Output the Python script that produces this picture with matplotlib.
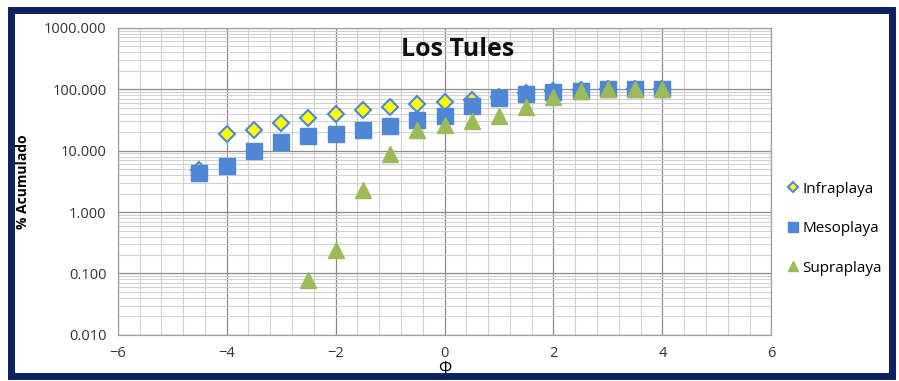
import matplotlib
matplotlib.use("Agg")
import matplotlib.pyplot as plt
from matplotlib.patches import Rectangle
from matplotlib.ticker import FuncFormatter, LogLocator, MultipleLocator

plt.rcParams["font.family"] = ["Open Sans", "DejaVu Sans"]

phi = [-4.5, -4.0, -3.5, -3.0, -2.5, -2.0, -1.5, -1.0, -0.5, 0.0,
       0.5, 1.0, 1.5, 2.0, 2.5, 3.0, 3.5, 4.0]
infraplaya = [4.8, 19, 22, 28, 34, 40, 46, 52, 58, 63,
              67, 76, 88, 94, 98, 100, 100, 100]
mesoplaya = [4.3, 5.7, 10, 13.6, 17.5, 19, 22, 25.5, 31, 37,
             54, 72, 84, 90, 95, 100, 100, 100]
supra_phi = [-2.5, -2.0, -1.5, -1.0, -0.5, 0.0, 0.5, 1.0, 1.5, 2.0, 2.5, 3.0, 3.5, 4.0]
supraplaya = [0.079, 0.24, 2.3, 8.9, 22, 26.5, 30, 37, 52, 75, 92, 100, 100, 100]

fig = plt.figure(figsize=(8.99, 3.81), dpi=100)
ax = fig.add_axes([0.131, 0.121, 0.727, 0.806])

ax.set_yscale("log")
ax.set_xlim(-6, 6)
ax.set_ylim(0.01, 1000)
ax.xaxis.set_major_locator(MultipleLocator(2))
ax.xaxis.set_minor_locator(MultipleLocator(0.4))
ax.yaxis.set_major_locator(LogLocator(base=10, numticks=10))
ax.yaxis.set_minor_locator(LogLocator(base=10, subs=range(2, 10), numticks=20))
ax.yaxis.set_major_formatter(FuncFormatter(lambda v, _: f"{v:.3f}"))
ax.yaxis.set_minor_formatter(FuncFormatter(lambda v, _: ""))

ax.grid(which="major", color="#8c8c8c", linewidth=0.9)
ax.grid(which="minor", color="#d0d0d0", linewidth=0.8)
ax.set_axisbelow(True)
ax.tick_params(which="both", length=0, labelsize=10.5, colors="#333333", pad=8)
for s in ax.spines.values():
    s.set_color("#a0a0a0")
    s.set_linewidth(0.9)

# Excel draws series in order: Infraplaya, Mesoplaya, Supraplaya on top
ax.plot(phi, infraplaya, linestyle="none", marker="D", markersize=8,
        markerfacecolor="#ffff00", markeredgecolor="#4f86d6", markeredgewidth=1.5,
        label="Infraplaya", zorder=2)
ax.plot(phi, mesoplaya, linestyle="none", marker="s", markersize=11,
        color="#4f86d6", label="Mesoplaya", zorder=3)
ax.plot(supra_phi, supraplaya, linestyle="none", marker="^", markersize=12,
        color="#9bbb59", label="Supraplaya", zorder=4)

ax.set_ylabel("% Acumulado", fontsize=10, fontweight="bold", labelpad=10)
ax.set_xlabel("Φ", fontsize=12, labelpad=0)
ax.text(0.52, 0.93, "Los Tules", transform=ax.transAxes, ha="center", va="center",
        fontsize=18, fontweight="bold", color="#111111")

fig.legend(loc="center left", bbox_to_anchor=(0.862, 0.40), frameon=False,
           fontsize=11, handlelength=0.6, handletextpad=0.3, labelspacing=1.6,
           markerscale=0.65)

fig.patches.append(Rectangle((0.012, 0.013), 0.98, 0.96, transform=fig.transFigure,
                             fill=False, edgecolor="#0b2160", linewidth=5))

fig.savefig("out.png", dpi=100, facecolor="white")
